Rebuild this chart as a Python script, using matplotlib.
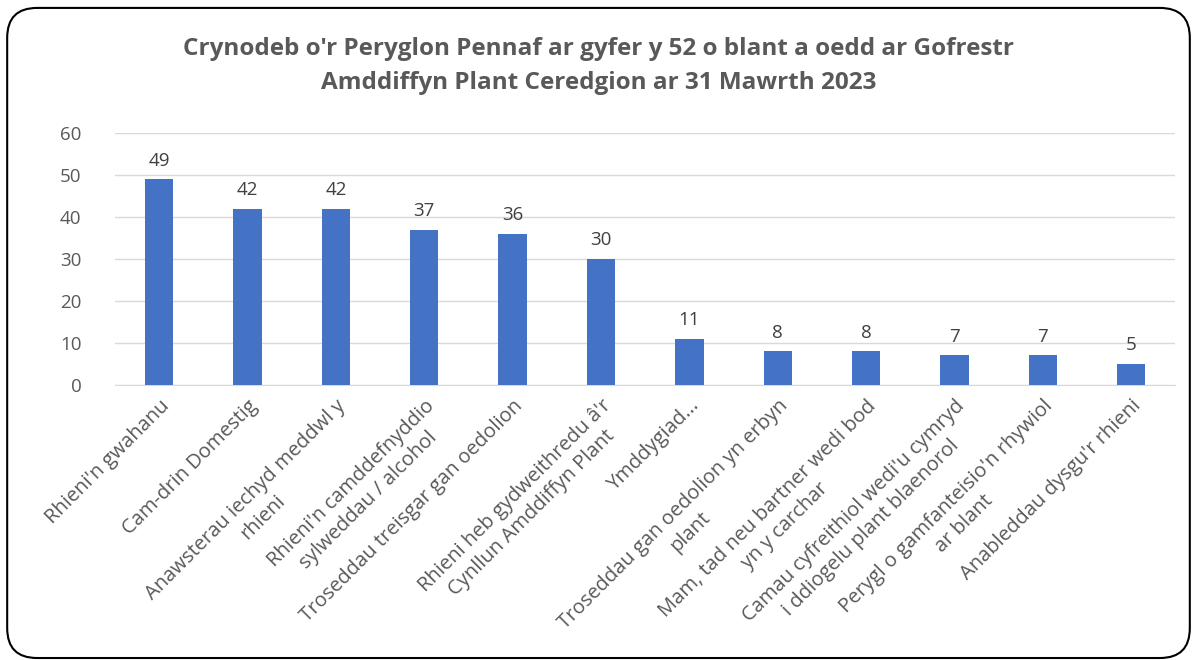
import matplotlib.pyplot as plt
import numpy as np
from matplotlib.patches import FancyBboxPatch

categories = [
    "Rhieni'n gwahanu",
    "Cam-drin Domestig",
    "Anawsterau iechyd meddwl y\nrhieni",
    "Rhieni'n camddefnyddio\nsylweddau / alcohol",
    "Troseddau treisgar gan oedolion",
    "Rhieni heb gydweithredu â'r\nCynllun Amddiffyn Plant",
    "Ymddygiad...",
    "Troseddau gan oedolion yn erbyn\nplant",
    "Mam, tad neu bartner wedi bod\nyn y carchar",
    "Camau cyfreithiol wedi'u cymryd\ni ddiogelu plant blaenorol",
    "Perygl o gamfanteisio'n rhywiol\nar blant",
    "Anableddau dysgu'r rhieni",
]
values = [49, 42, 42, 37, 36, 30, 11, 8, 8, 7, 7, 5]
title = ("Crynodeb o'r Peryglon Pennaf ar gyfer y 52 o blant a oedd ar Gofrestr\n"
         "Amddiffyn Plant Ceredgion ar 31 Mawrth 2023")

plt.rcParams['font.family'] = ['Open Sans', 'DejaVu Sans']
grey = "#595959"

fig = plt.figure(figsize=(11.97, 6.6), dpi=100)
ax = fig.add_axes([0.096, 0.417, 0.886, 0.381])

x = np.arange(len(categories))
ax.bar(x, values, width=0.32, color="#4472C4", zorder=3)
for xi, v in zip(x, values):
    ax.text(xi, v + 2.3, str(v), ha="center", va="bottom", fontsize=13.5, color="#404040")

ax.set_xlim(-0.5, len(categories) - 0.5)
ax.set_ylim(0, 60)
ax.set_yticks(range(0, 61, 10))
ax.yaxis.grid(True, color="#D9D9D9", linewidth=1, zorder=0)
for s in ["top", "right", "left"]:
    ax.spines[s].set_visible(False)
ax.spines["bottom"].set_color("#D9D9D9")
ax.tick_params(axis="y", length=0, labelsize=13.5, labelcolor=grey, pad=24)
ax.tick_params(axis="x", length=0, labelsize=14.5, labelcolor=grey, pad=8)
ax.set_xticks(x)
ax.set_xticklabels(categories, rotation=45, ha="right", rotation_mode="anchor",
                   multialignment="center", linespacing=1.3)

fig.text(0.5, 0.9, title, ha="center", va="center", fontsize=17.5, fontweight="bold",
         color=grey, linespacing=1.6)

frame = FancyBboxPatch((0.006, 0.003), 0.988, 0.985, boxstyle="round,pad=0,rounding_size=0.025",
                       transform=fig.transFigure, facecolor="none", edgecolor="black",
                       linewidth=1.5, mutation_aspect=1197/660)
fig.patches.append(frame)

fig.savefig("out.png", dpi=100)
